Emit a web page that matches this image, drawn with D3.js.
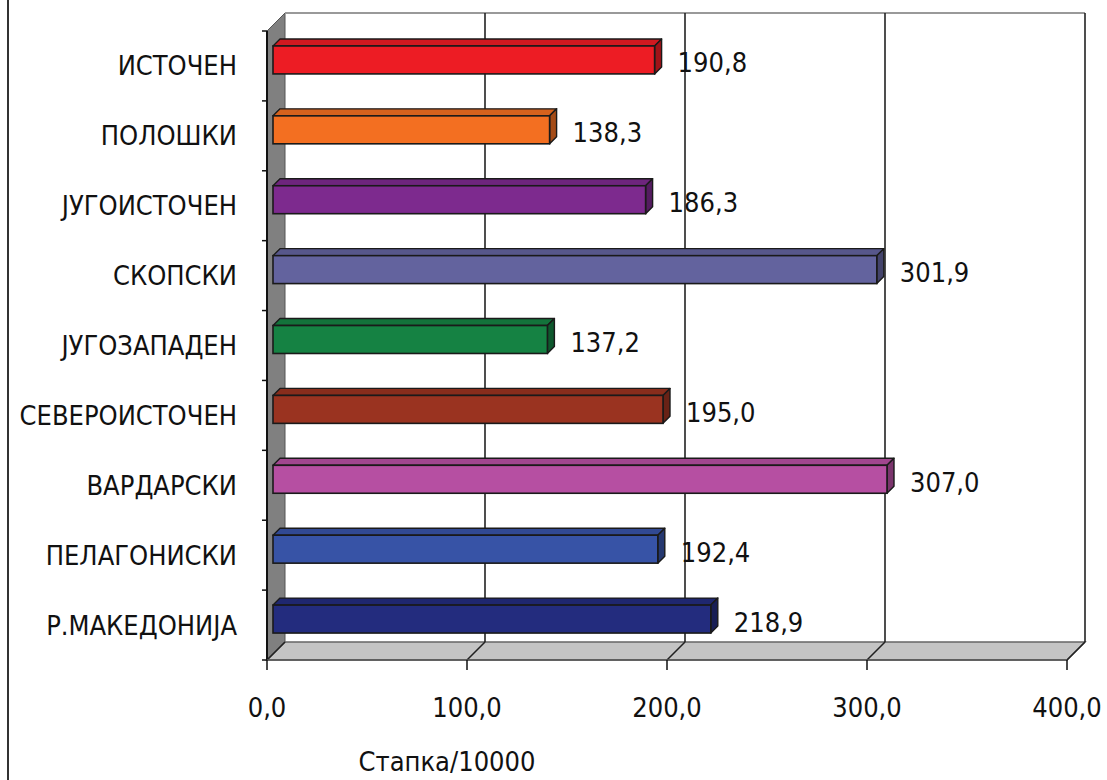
<!DOCTYPE html>
<html><head><meta charset="utf-8">
<script src="https://cdn.jsdelivr.net/npm/d3@7"></script>
<style>
html,body{margin:0;padding:0;background:#fff;}
svg text{font-family:"DejaVu Sans Condensed","DejaVu Sans",sans-serif;font-stretch:condensed;fill:#111;}
</style></head>
<body><svg id="c" width="1107" height="780"></svg>
<script>
const categories = ["ИСТОЧЕН","ПОЛОШКИ","ЈУГОИСТОЧЕН","СКОПСКИ","ЈУГОЗАПАДЕН","СЕВЕРОИСТОЧЕН","ВАРДАРСКИ","ПЕЛАГОНИСКИ","Р.МАКЕДОНИЈА"];
const values = [190.8,138.3,186.3,301.9,137.2,195.0,307.0,192.4,218.9];
const colors = ["#ED1C24","#F36F21","#7D2A8E","#63639E","#158243","#9A3320","#B64FA2","#3753A6","#232C7E"];
const ticks = [0,100,200,300,400];
const tickLabels = ["0,0","100,0","200,0","300,0","400,0"];
const axisTitle = "Стапка/10000";

const svg = d3.select("#c");
const D = 18; // depth of plot
const x = d3.scaleLinear().domain([0,400]).range([267,1067]);
const y = d3.scaleBand().domain(categories).range([31,660]).paddingInner(0.6).paddingOuter(0.3);
const fmt = v => d3.format(".1f")(v).replace(".", ",");

// left border line
svg.append("line").attr("x1",8).attr("x2",8).attr("y1",0).attr("y2",780).attr("stroke","#333").attr("stroke-width",2);

const y0 = 31, y1 = 660;
// left wall
svg.append("polygon")
  .attr("points",[[x(0),y0],[x(0)+D,y0-D],[x(0)+D,y1-D],[x(0),y1]].map(p=>p.join(",")).join(" "))
  .attr("fill","#808080").attr("stroke","#555").attr("stroke-width",1);
// floor
svg.append("polygon")
  .attr("points",[[x(0),y1],[x(400),y1],[x(400)+D,y1-D],[x(0)+D,y1-D]].map(p=>p.join(",")).join(" "))
  .attr("fill","#C4C4C4").attr("stroke","#666").attr("stroke-width",1.5);
// top back line
svg.append("line").attr("x1",x(0)+D).attr("x2",x(400)+D).attr("y1",y0-D).attr("y2",y0-D)
  .attr("stroke","#999").attr("stroke-width",2);
// gridlines on back wall + floor diagonals
ticks.forEach(t=>{
  if(t>0){
    svg.append("line").attr("x1",x(t)+D).attr("x2",x(t)+D).attr("y1",y0-D).attr("y2",y1-D)
      .attr("stroke","#222").attr("stroke-width",1.6);
  }
  svg.append("line").attr("x1",x(t)).attr("x2",x(t)+D).attr("y1",y1).attr("y2",y1-D)
    .attr("stroke","#222").attr("stroke-width",1.6);
});
// front left axis line
svg.append("line").attr("x1",x(0)).attr("x2",x(0)).attr("y1",y0).attr("y2",y1).attr("stroke","#111").attr("stroke-width",2);
// front bottom axis line
svg.append("line").attr("x1",x(0)).attr("x2",x(400)).attr("y1",y1).attr("y2",y1).attr("stroke","#555").attr("stroke-width",1.5);
// category boundary ticks
const step = y.step();
for(let i=0;i<=categories.length;i++){
  const yy = y0 + i*step;
  svg.append("line").attr("x1",x(0)-5).attr("x2",x(0)).attr("y1",yy).attr("y2",yy).attr("stroke","#111").attr("stroke-width",1.5);
}
// x ticks
ticks.forEach((t,i)=>{
  svg.append("line").attr("x1",x(t)).attr("x2",x(t)).attr("y1",y1).attr("y2",y1+10).attr("stroke","#111").attr("stroke-width",1.5);
  svg.append("text").attr("x",x(t)).attr("y",717).attr("text-anchor","middle").attr("font-size",27).text(tickLabels[i]);
});
svg.append("text").attr("x",447).attr("y",771).attr("text-anchor","middle").attr("font-size",27).text(axisTitle);

// bars
const d1 = 6, d2 = 13;
categories.forEach((c,i)=>{
  const v = values[i];
  const col = d3.color(colors[i]);
  const top = y(c), bot = y(c)+y.bandwidth();
  const xa = x(0), xb = x(v);
  const g = svg.append("g");
  // top face
  g.append("polygon").attr("points",[[xa+d1,top-d1],[xb+d1,top-d1],[xb+d2,top-d2],[xa+d2,top-d2]].map(p=>p.join(",")).join(" "))
    .attr("fill",col.darker(0.35)).attr("stroke","#1a1a1a").attr("stroke-width",1.4).attr("stroke-linejoin","round");
  // side face
  g.append("polygon").attr("points",[[xb+d1,top-d1],[xb+d2,top-d2],[xb+d2,bot-d2],[xb+d1,bot-d1]].map(p=>p.join(",")).join(" "))
    .attr("fill",col.darker(1.1)).attr("stroke","#1a1a1a").attr("stroke-width",1.4).attr("stroke-linejoin","round");
  // front face
  g.append("rect").attr("x",xa+d1).attr("y",top-d1).attr("width",xb-xa).attr("height",bot-top)
    .attr("fill",col).attr("stroke","#1a1a1a").attr("stroke-width",1.6);
  // value label
  svg.append("text").attr("x",xb+d1+23).attr("y",y(c)+y.bandwidth()/2-3).attr("dy","0.35em")
    .attr("font-size",27).text(fmt(v));
  // category label
  svg.append("text").attr("x",237).attr("y",y(c)+y.bandwidth()/2).attr("dy","0.35em")
    .attr("text-anchor","end").attr("font-size",27).text(c);
});
</script></body></html>
